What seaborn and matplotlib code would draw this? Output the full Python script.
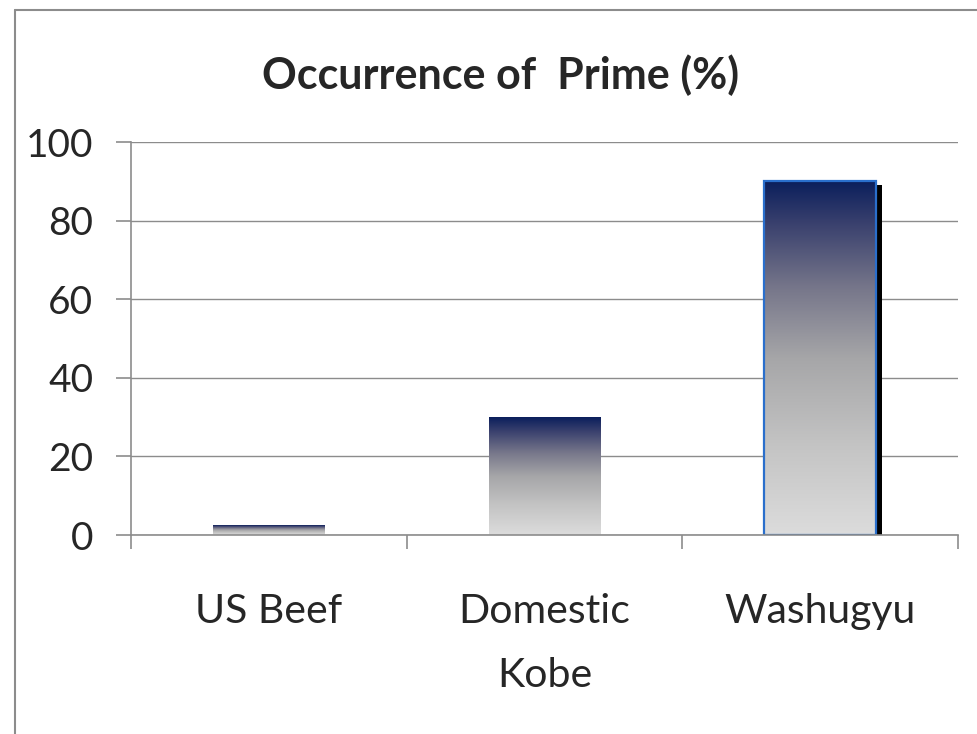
import matplotlib
matplotlib.use("Agg")
import matplotlib.pyplot as plt
import seaborn as sns
import numpy as np
import pandas as pd
from matplotlib.colors import LinearSegmentedColormap
from matplotlib.patches import Rectangle
from matplotlib.lines import Line2D
import matplotlib.transforms as mtransforms

categories = ["US Beef", "Domestic\nKobe", "Washugyu"]
values = [2.5, 30, 90]
y_ticks = [0, 20, 40, 60, 80, 100]
title = "Occurrence of  Prime (%)"

sns.set_style("white")
plt.rcParams["font.family"] = ["Lato", "DejaVu Sans"]

df = pd.DataFrame({"cat": categories, "val": values})

fig = plt.figure(figsize=(9.78, 7.34), dpi=100)
ax = fig.add_axes([131 / 978, 199 / 734, (958 - 131) / 978, (535 - 142) / 734])

sns.barplot(data=df, x="cat", y="val", ax=ax, width=0.405, color="#888888",
            saturation=1, zorder=3)

# gradient fill like the excel "early sunset" style
grad = LinearSegmentedColormap.from_list(
    "g", [(0.0, "#0b1f5c"), (0.12, "#3a416e"), (0.3, "#76768a"),
          (0.5, "#a6a6a8"), (0.75, "#c4c4c4"), (1.0, "#dcdcdc")])
img = np.linspace(0, 1, 256).reshape(-1, 1)

for i, p in enumerate(ax.patches):
    x0, y0 = p.get_x(), p.get_y()
    w, h = p.get_width(), p.get_height()
    p.set_facecolor("none")
    p.set_edgecolor("none")
    im = ax.imshow(img, cmap=grad, aspect="auto", extent=[x0, x0 + w, y0, y0 + h],
                   origin="upper", zorder=3, interpolation="bilinear")
    im.set_clip_path(p)
    if i == len(ax.patches) - 1:
        # highlighted bar: blue edge and dark shadow
        shift = mtransforms.offset_copy(ax.transData, fig=fig, x=6, y=-4, units="dots")
        ax.add_patch(Rectangle((x0, y0), w, h, facecolor="black", edgecolor="none",
                               transform=shift, zorder=2))
        ax.add_patch(Rectangle((x0, y0), w, h, facecolor="none", edgecolor="#2a6fcc",
                               lw=1.6, zorder=4))

ax.set_ylim(0, 100)
ax.set_xlim(-0.5, len(categories) - 0.5)
ax.set_yticks(y_ticks)
ax.set_yticklabels([str(t) for t in y_ticks])
ax.yaxis.grid(True, color="#8c8c8c", lw=1, zorder=0)
ax.set_axisbelow(True)

for s in ["top", "right"]:
    ax.spines[s].set_visible(False)
for s in ["left", "bottom"]:
    ax.spines[s].set_color("#8c8c8c")
    ax.spines[s].set_linewidth(1.2)
    ax.spines[s].set_zorder(5)

ax.tick_params(axis="y", length=11, width=1.2, color="#8c8c8c", pad=16,
               labelsize=28, left=True)
ax.set_xticks(range(len(categories)))
ax.set_xticklabels(categories, fontsize=29.5, linespacing=1.9)
ax.tick_params(axis="x", which="major", length=0, pad=42)
ax.set_xticks(np.arange(-0.5, len(categories), 1), minor=True)
ax.tick_params(axis="x", which="minor", length=10, width=1.2, color="#8c8c8c", bottom=True)
ax.set_xlabel("")
ax.set_ylabel("")

fig.text(501 / 978, 1 - 75 / 734, title, fontsize=31, fontweight="bold",
         ha="center", va="center")

# outer chart frame (left and top edges visible)
fig.add_artist(Line2D([15 / 978, 15 / 978], [0, 1 - 10 / 734], transform=fig.transFigure,
                      color="#8c8c8c", lw=1.5))
fig.add_artist(Line2D([15 / 978, 1], [1 - 10 / 734, 1 - 10 / 734], transform=fig.transFigure,
                      color="#8c8c8c", lw=1.5))

fig.savefig("out.png", dpi=100)
